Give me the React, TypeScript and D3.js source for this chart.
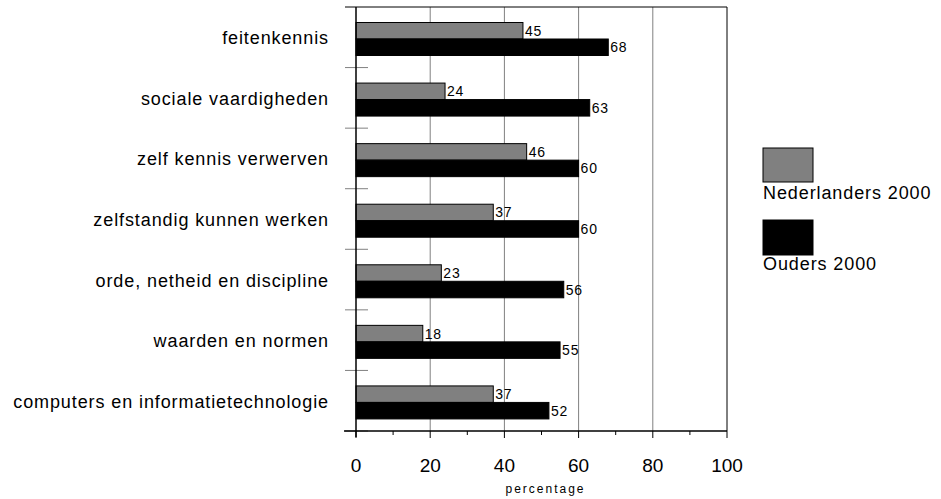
import React from "react";
import * as d3 from "d3";

const categories = [
  "feitenkennis",
  "sociale vaardigheden",
  "zelf kennis verwerven",
  "zelfstandig kunnen werken",
  "orde, netheid en discipline",
  "waarden en normen",
  "computers en informatietechnologie",
];
const nederlanders = [45, 24, 46, 37, 23, 18, 37];
const ouders = [68, 63, 60, 60, 56, 55, 52];
const seriesNames = ["Nederlanders 2000", "Ouders 2000"];
const xTicks = [0, 20, 40, 60, 80, 100];
const minorTicks = [10, 30, 50, 70, 90];

const W = 941, H = 499;
const left = 356, right = 727, top = 7, bottom = 431;
const font = "'Liberation Sans', Arial, sans-serif";

export default function App() {
  const x = d3.scaleLinear().domain([0, 100]).range([left, right]);
  const y = d3.scaleBand().domain(categories).range([top, bottom]).padding(0);
  const bw = y.bandwidth();
  const barH = 16.5;
  const offset = 15.5;
  const series = [
    { name: seriesNames[0], values: nederlanders, fill: "#808080" },
    { name: seriesNames[1], values: ouders, fill: "#000000" },
  ];
  const boundaries = categories.map((c) => y(c)!).concat([bottom]);
  return (
    <svg width={W} height={H} style={{ position: "absolute", left: 0, top: 0, background: "#fff" }}>
      {xTicks.slice(1, -1).map((t) => (
        <line key={t} x1={x(t)} x2={x(t)} y1={top} y2={bottom} stroke="#808080" strokeWidth={1} />
      ))}
      <line x1={left - 11} x2={right} y1={top} y2={top} stroke="#000" />
      <line x1={right} x2={right} y1={top} y2={bottom} stroke="#000" />
      {boundaries.map((b, i) => (
        <line key={i} x1={left - 11} x2={left + 12} y1={b} y2={b} stroke="#808080" />
      ))}
      {categories.map((c, i) =>
        series.map((s, j) => {
          const yy = y(c)! + offset + j * barH;
          const v = s.values[i];
          return (
            <g key={c + j}>
              <rect x={x(0)} y={yy} width={x(v) - x(0)} height={barH} fill={s.fill} stroke="#000" strokeWidth={1} />
              <text x={x(v) + 2} y={yy + barH / 2 + 5} fontFamily={font} fontSize={14} letterSpacing={0.8} fill="#000">
                {v}
              </text>
            </g>
          );
        })
      )}
      <line x1={left} x2={left} y1={top} y2={bottom + 6} stroke="#000" strokeWidth={1.5} />
      <line x1={left - 12} x2={right} y1={bottom} y2={bottom} stroke="#000" strokeWidth={1.5} />
      {xTicks.map((t) => (
        <line key={t} x1={x(t)} x2={x(t)} y1={bottom} y2={bottom + 7} stroke="#000" />
      ))}
      {minorTicks.map((t) => (
        <line key={t} x1={x(t)} x2={x(t)} y1={bottom} y2={bottom + 4} stroke="#000" />
      ))}
      {xTicks.map((t) => (
        <text key={t} x={x(t)} y={472} textAnchor="middle" fontFamily={font} fontSize={19} fill="#000">
          {t}
        </text>
      ))}
      <text x={(left + right) / 2 + 4} y={493} textAnchor="middle" fontFamily={font} fontSize={12} letterSpacing={2} fill="#000">
        percentage
      </text>
      {categories.map((c) => (
        <text key={c} x={329} y={y(c)! + bw / 2 + 7} textAnchor="end" fontFamily={font} fontSize={18} letterSpacing={0.9} fill="#000">
          {c}
        </text>
      ))}
      <rect x={763} y={148} width={50} height={34} fill="#808080" stroke="#000" />
      <text x={763} y={199} fontFamily={font} fontSize={18} letterSpacing={0.9} fill="#000">{seriesNames[0]}</text>
      <rect x={763} y={220} width={50} height={35} fill="#000" stroke="#000" />
      <text x={763} y={270} fontFamily={font} fontSize={18} letterSpacing={0.9} fill="#000">{seriesNames[1]}</text>
    </svg>
  );
}
